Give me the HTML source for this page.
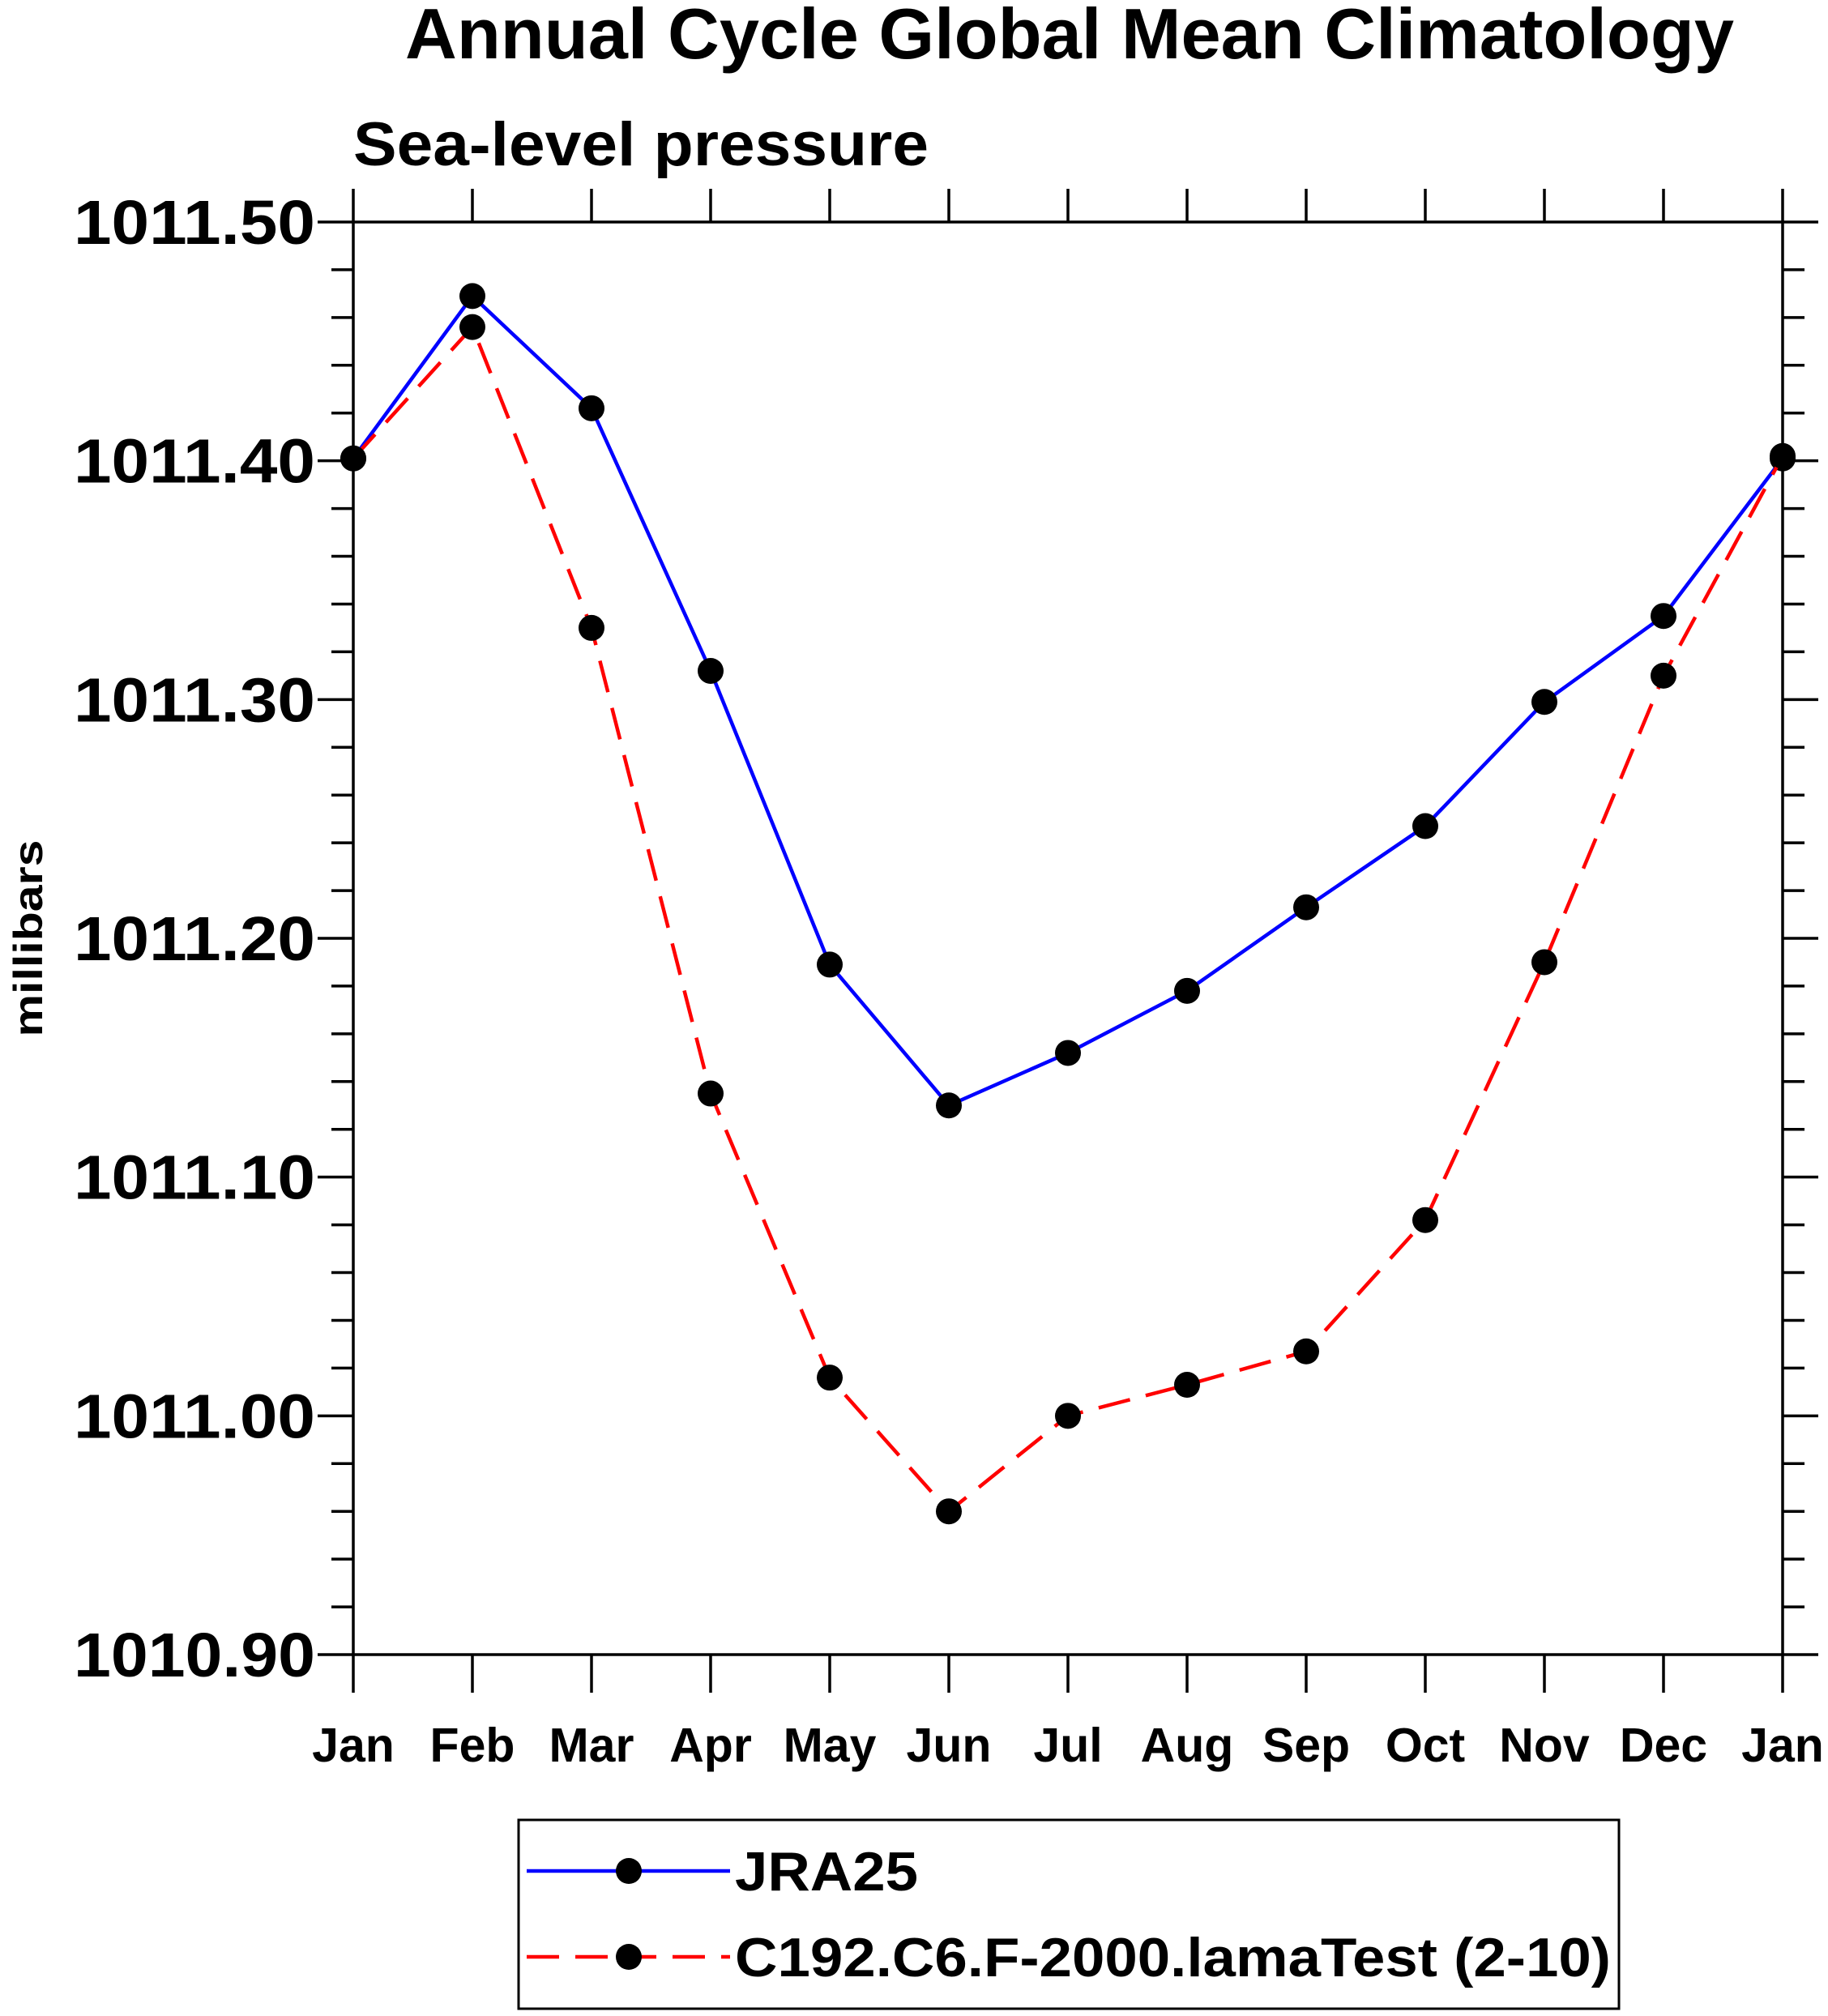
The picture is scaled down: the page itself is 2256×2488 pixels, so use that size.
<!DOCTYPE html>
<html><head><meta charset="utf-8"><style>
body{margin:0;background:#fff;}
svg{display:block;font-family:"Liberation Sans",sans-serif;font-weight:bold;}
</style></head><body>
<svg id="chart" width="2256" height="2488" viewBox="0 0 2256 2488">
<text x="1320" y="72" font-size="88" text-anchor="middle" textLength="1640" lengthAdjust="spacingAndGlyphs">Annual Cycle Global Mean Climatology</text>
<text x="436" y="204" font-size="76" textLength="710" lengthAdjust="spacingAndGlyphs">Sea-level pressure</text>
<text transform="translate(52,1158) rotate(-90)" font-size="50" text-anchor="middle" textLength="243" lengthAdjust="spacingAndGlyphs">millibars</text>
<g id="axes"></g>
<g id="series"></g>
<g>
<rect x="640" y="2246" width="1358" height="233" fill="none" stroke="#000" stroke-width="3"/>
<g>
<line x1="650" y1="2309" x2="901" y2="2309" stroke="#0000ff" stroke-width="4.5"/>
<circle cx="776" cy="2309" r="16" fill="#000"/>
<text x="907" y="2333" font-size="68" textLength="226" lengthAdjust="spacingAndGlyphs">JRA25</text>
</g>
<g>
<line x1="650" y1="2415" x2="901" y2="2415" stroke="#ff0000" stroke-width="4.5" stroke-dasharray="40,20"/>
<circle cx="776" cy="2415" r="16" fill="#000"/>
<text x="907" y="2439" font-size="68" textLength="1081" lengthAdjust="spacingAndGlyphs">C192.C6.F-2000.lamaTest (2-10)</text>
</g>
</g>
</svg>
<script>
const months = ["Jan","Feb","Mar","Apr","May","Jun","Jul","Aug","Sep","Oct","Nov","Dec","Jan"];
const jra25 = [1011.401,1011.469,1011.422,1011.312,1011.189,1011.130,1011.152,1011.178,1011.213,1011.247,1011.299,1011.335,1011.401];
const model = [1011.401,1011.456,1011.330,1011.135,1011.016,1010.960,1011.000,1011.013,1011.027,1011.082,1011.190,1011.310,1011.402];
const yTicks = [1010.9,1011.0,1011.1,1011.2,1011.3,1011.4,1011.5];
const yTickLabels = ["1010.90","1011.00","1011.10","1011.20","1011.30","1011.40","1011.50"];
const yMin = 1010.9, yMax = 1011.5;
const L = 436, R = 2200, T = 274, B = 2042;
const NS = "http://www.w3.org/2000/svg";
function xs(i){ return L + i*(R-L)/(months.length-1); }
function ys(v){ return B - (v-yMin)/(yMax-yMin)*(B-T); }
function mk(tag, attrs, parent){ const e=document.createElementNS(NS,tag); for(const k in attrs) e.setAttribute(k,attrs[k]); parent.appendChild(e); return e; }
const axes = document.getElementById('axes');
const frame = mk('rect',{x:L,y:T,width:R-L,height:B-T,fill:'none',stroke:'#000','stroke-width':3.5},axes);


for(let k=0;k<=30;k++){
  const v = yMin + k*0.02, y = ys(v), major = (k%5===0), len = major?44:27;
  const t1 = mk('line',{x1:L-len,y1:y,x2:L,y2:y,stroke:'#000','stroke-width':3.5},axes);
  
  
  const t2 = mk('line',{x1:R,y1:y,x2:R+len,y2:y,stroke:'#000','stroke-width':3.5},axes);
  
  
}
yTicks.forEach((v,i)=>{
  const t = mk('text',{x:389,y:ys(v)+27,'font-size':77,'text-anchor':'end',textLength:298,lengthAdjust:'spacingAndGlyphs'},axes);
  t.textContent = yTickLabels[i];
  
  
});
months.forEach((m,i)=>{
  const x = xs(i);
  const a = mk('line',{x1:x,y1:B,x2:x,y2:B+47,stroke:'#000','stroke-width':3.5},axes);
  
  
  const b = mk('line',{x1:x,y1:T-41,x2:x,y2:T,stroke:'#000','stroke-width':3.5},axes);
  
  
  const t = mk('text',{x:x,y:2174,'font-size':59,'text-anchor':'middle'},axes);
  t.textContent = m;
  
  
});
const series = document.getElementById('series');
function draw(vals, color, dash, name){
  const g = mk('g',{},series);
  
  
  const pts = vals.map((v,i)=>xs(i)+','+ys(v)).join(' ');
  const pl = mk('polyline',{points:pts,fill:'none',stroke:color,'stroke-width':4.5,'stroke-dasharray':dash},g);
  
  
  vals.forEach((v,i)=>{
    const c = mk('circle',{cx:xs(i),cy:ys(v),r:16,fill:'#000'},g);
    
    
  });
}
draw(jra25,'#0000ff','none','jra25-series');
draw(model,'#ff0000','40,20','model-series');
</script>
</body></html>
